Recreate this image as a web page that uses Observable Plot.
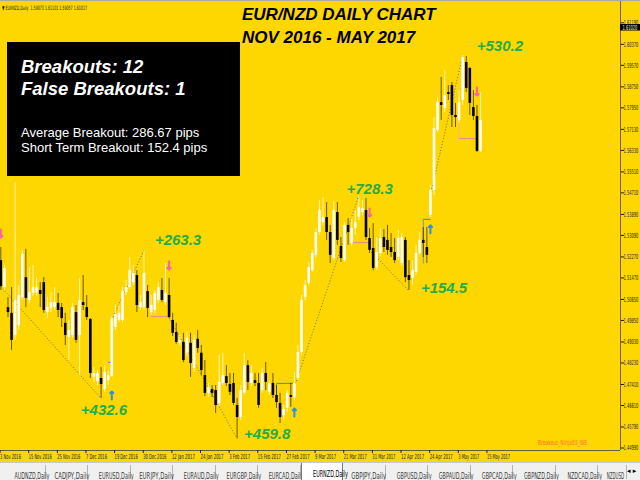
<!DOCTYPE html>
<html><head><meta charset="utf-8">
<script src="https://cdn.jsdelivr.net/npm/d3@7"></script>
<script src="https://cdn.jsdelivr.net/npm/@observablehq/plot@0.6"></script>
<style>
html,body{margin:0;padding:0;background:#FFD700;}
#wrap{position:relative;width:640px;height:480px;background:#FFD700;overflow:hidden;font-family:"Liberation Sans",Arial,sans-serif;}
#chart{position:absolute;left:0;top:0;}
#topline{position:absolute;left:0;top:0;width:640px;height:1px;background:#a8a8a8;}
#hdr{position:absolute;left:2px;top:4px;font:6px/7px "DejaVu Sans",sans-serif;color:#222;white-space:nowrap;transform-origin:left top;}
#title{position:absolute;left:242px;top:2.6px;font:italic bold 17px/23px "Liberation Sans",Arial,sans-serif;color:#000;white-space:nowrap;}
#box{position:absolute;left:7px;top:42px;width:233px;height:134px;background:#000;color:#fff;}
.big{position:absolute;left:14px;font:italic bold 18.5px/18px "Liberation Sans",Arial,sans-serif;white-space:nowrap;}
.small{position:absolute;left:14px;font:13px/13px "Liberation Sans",Arial,sans-serif;white-space:nowrap;}
#sig{position:absolute;left:538px;top:440px;font:7px/7px "DejaVu Sans",sans-serif;color:#ff6a3a;white-space:nowrap;transform-origin:left top;}
#tabs{position:absolute;left:0;top:462px;width:640px;height:18px;background:#f0f0f0;border-top:1px solid #c8c8c8;box-sizing:border-box;}
.tab{position:absolute;top:2px;height:14px;box-sizing:border-box;border-right:1px solid #b4b4b4;text-align:center;overflow:visible;}
.tab span{display:inline-block;font:8px/14px "DejaVu Sans",sans-serif;color:#3a3a3a;white-space:nowrap;}
.tab.active{top:0;height:18px;background:#fff;border:1px solid #777;border-top:none;}
.tab.active span{color:#000;line-height:16px;}
#arrows{position:absolute;left:627px;top:4px;font:7px/9px "DejaVu Sans",sans-serif;color:#000;}
</style></head>
<body>
<div id="wrap">
  <div id="chart"></div>
  <div id="topline"></div>
  <div id="hdr">▼ EURNZD,Daily&nbsp; 1.59073 1.61101 1.59057 1.61017</div>
  <div id="title">EUR/NZD DAILY CHART<br>NOV 2016 - MAY 2017</div>
  <div id="box">
    <div class="big" style="top:15.8px">Breakouts: 12</div>
    <div class="big" style="top:37.8px">False Breakouts: 1</div>
    <div class="small" style="top:84px">Average Breakout: 286.67 pips</div>
    <div class="small" style="top:99px">Short Term Breakout: 152.4 pips</div>
  </div>
  <div id="sig">Breakout_Ninja03_WE</div>
  <div id="tabs"></div>
</div>
<script>
// ---- candle data (EURNZD daily) ----
const open = [1.5213,1.5110,1.5034,1.5012,1.4928,1.4966,1.5072,1.5148,1.5061,1.5088,
1.5091,1.5099,1.5129,1.5015,1.5031,1.5034,1.5050,1.5034,1.4974,1.4920,
1.4928,1.5015,1.4928,1.5053,1.5034,1.4989,1.4768,1.4752,1.4764,1.4722,
1.4756,1.4771,1.4958,1.4985,1.4985,1.5091,1.5110,1.5129,1.5156,1.5034,
1.5034,1.5095,1.5015,1.5023,1.5061,1.5099,1.5053,1.5080,1.4985,1.4939,
1.4898,1.4901,1.4860,1.4898,1.4802,1.4913,1.4860,1.4775,1.4707,1.4722,
1.4718,1.4669,1.4745,1.4771,1.4741,1.4745,1.4661,1.4615,1.4707,1.4813,
1.4745,1.4756,1.4745,1.4718,1.4783,1.4711,1.4745,1.4699,1.4669,1.4623,
1.4650,1.4699,1.4692,1.4764,1.4863,1.5072,1.5126,1.5175,1.5233,1.5320,
1.5358,1.5377,1.5320,1.5221,1.5396,1.5267,1.5213,1.5347,1.5278,1.5335,
1.5377,1.5396,1.5404,1.5297,1.5259,1.5186,1.5240,1.5301,1.5290,1.5263,
1.5244,1.5225,1.5202,1.5290,1.5156,1.5145,1.5168,1.5240,1.5290,1.5263,
1.5385,1.5480,1.5709,1.5815,1.5792,1.5853,1.5880,1.5766,1.5747,1.5823,
1.5968,1.5945,1.5796,1.5762,1.5629];
const high = [1.5263,1.5194,1.5072,1.5110,1.5510,1.5118,1.5252,1.5256,1.5186,1.5194,
1.5148,1.5129,1.5148,1.5072,1.5091,1.5110,1.5088,1.5050,1.5012,1.4985,
1.5050,1.5042,1.5145,1.5156,1.5080,1.4992,1.4806,1.4794,1.4806,1.4813,
1.4794,1.5000,1.5042,1.5042,1.5110,1.5137,1.5225,1.5194,1.5175,1.5080,
1.5252,1.5118,1.5080,1.5099,1.5129,1.5145,1.5202,1.5145,1.5012,1.4974,
1.4928,1.4936,1.4939,1.4936,1.4928,1.4947,1.4890,1.4832,1.4745,1.4737,
1.4737,1.4852,1.4860,1.4813,1.4783,1.4783,1.4688,1.4737,1.4860,1.4832,
1.4813,1.4783,1.4783,1.4802,1.4825,1.4756,1.4783,1.4737,1.4707,1.4661,
1.4718,1.4745,1.4787,1.4890,1.5080,1.5137,1.5206,1.5252,1.5335,1.5442,
1.5453,1.5434,1.5347,1.5438,1.5434,1.5301,1.5358,1.5373,1.5373,1.5404,
1.5461,1.5442,1.5450,1.5335,1.5354,1.5301,1.5335,1.5331,1.5347,1.5316,
1.5297,1.5328,1.5316,1.5301,1.5213,1.5213,1.5271,1.5320,1.5339,1.5339,
1.5499,1.5758,1.5834,1.5911,1.5937,1.5880,1.5892,1.5812,1.5861,1.5994,
1.5991,1.5949,1.5861,1.5804,1.5853];
const low = [1.5099,1.5099,1.4996,1.4871,1.4909,1.4947,1.5061,1.5034,1.5050,1.5076,
1.5076,1.5034,1.5012,1.4992,1.5015,1.5023,1.4996,1.4958,1.4890,1.4832,
1.4916,1.4898,1.4775,1.5023,1.4985,1.4764,1.4749,1.4737,1.4688,1.4711,
1.4737,1.4768,1.4947,1.4977,1.4977,1.5080,1.5103,1.5118,1.5015,1.5023,
1.5023,1.4996,1.5004,1.5012,1.5050,1.5053,1.5042,1.4992,1.4924,1.4894,
1.4886,1.4824,1.4848,1.4768,1.4787,1.4860,1.4775,1.4695,1.4692,1.4692,
1.4631,1.4657,1.4737,1.4733,1.4699,1.4661,1.4535,1.4604,1.4699,1.4718,
1.4733,1.4733,1.4650,1.4707,1.4718,1.4699,1.4688,1.4650,1.4593,1.4604,
1.4635,1.4654,1.4680,1.4756,1.4852,1.5061,1.5118,1.5168,1.5221,1.5309,
1.5347,1.5290,1.5202,1.5213,1.5271,1.5206,1.5206,1.5271,1.5267,1.5309,
1.5366,1.5385,1.5290,1.5240,1.5175,1.5175,1.5229,1.5244,1.5233,1.5225,
1.5202,1.5213,1.5190,1.5129,1.5099,1.5118,1.5156,1.5233,1.5225,1.5202,
1.5377,1.5461,1.5701,1.5747,1.5777,1.5823,1.5720,1.5720,1.5735,1.5804,
1.5853,1.5766,1.5747,1.5625,1.5625];
const close = [1.5114,1.5183,1.5015,1.4909,1.5061,1.5080,1.5237,1.5069,1.5091,1.5110,
1.5110,1.5084,1.5023,1.5034,1.5053,1.5053,1.5023,1.4992,1.4928,1.4947,
1.5034,1.4909,1.5061,1.5042,1.4996,1.4783,1.4783,1.4783,1.4741,1.4787,
1.4775,1.4992,1.5008,1.5012,1.5095,1.5110,1.5175,1.5164,1.5042,1.5053,
1.5164,1.5031,1.5042,1.5088,1.5110,1.5061,1.5088,1.4996,1.4936,1.4901,
1.4909,1.4832,1.4916,1.4821,1.4909,1.4878,1.4794,1.4707,1.4730,1.4707,
1.4661,1.4749,1.4775,1.4745,1.4711,1.4669,1.4615,1.4718,1.4813,1.4749,
1.4783,1.4745,1.4661,1.4783,1.4749,1.4745,1.4699,1.4672,1.4615,1.4646,
1.4707,1.4692,1.4745,1.4863,1.5061,1.5118,1.5186,1.5240,1.5320,1.5404,
1.5377,1.5320,1.5233,1.5404,1.5290,1.5221,1.5347,1.5320,1.5335,1.5358,
1.5415,1.5411,1.5301,1.5252,1.5183,1.5244,1.5297,1.5263,1.5252,1.5244,
1.5213,1.5297,1.5301,1.5148,1.5137,1.5175,1.5240,1.5290,1.5278,1.5233,
1.5480,1.5716,1.5815,1.5804,1.5842,1.5846,1.5766,1.5758,1.5815,1.5987,
1.5869,1.5812,1.5762,1.5629,1.5747];

// ---- axis tick labels ----
const dateLabels = ["3 Nov 2016","15 Nov 2016","25 Nov 2016","7 Dec 2016","19 Dec 2016","30 Dec 2016",
"12 Jan 2017","24 Jan 2017","3 Feb 2017","15 Feb 2017","27 Feb 2017","9 Mar 2017","21 Mar 2017",
"31 Mar 2017","12 Apr 2017","24 Apr 2017","3 May 2017","15 May 2017"];
const barsPerLabel = 8;
const priceTicks = [1.6119,1.6037,1.5957,1.5875,1.5795,1.5713,1.5633,1.5551,1.5471,1.5389,1.5309,
1.5227,1.5147,1.5065,1.4985,1.4903,1.4823,1.4741,1.4661,1.4579,1.4499];
const currentPrice = 1.6102;

// ---- breakout annotations ----
const boStart = [0, 31, 47, 82, 103, 120];
const boStartPrice = [1.5114, 1.4989, 1.4995, 1.4733, 1.5252, 1.5464];
const boEnd = [28, 40, 66, 100, 114, 129];
const boEndPrice = [1.4688, 1.5252, 1.4535, 1.5461, 1.5098, 1.5994];
const boPips = ["+432.6","+263.3","+459.8","+728.3","+154.5","+530.2"];
const boLabelIdx = [28.8, 49.5, 74.4, 103, 123.8, 139.4];
const boLabelPrice = [1.4642, 1.5290, 1.4551, 1.5484, 1.5107, 1.6029];

const sellIdx = [0, 47, 103, 133];
const sellPrice = [1.5316, 1.5194, 1.5396, 1.5857];
const buyIdx = [31, 82, 120];
const buyPrice = [1.4699, 1.4634, 1.5332];

const pinkFrom = [42, 98, 128], pinkTo = [47, 103, 133], pinkLevel = [1.5000, 1.5282, 1.5678];
const blueFrom = [30, 77, 118], blueTo = [31, 82, 120], blueLevel = [1.4825, 1.4745, 1.5370];
const blueEdgeIdx = [77, 118], blueEdgeLow = [1.4680, 1.5202];
const pinkEdgeIdx = [98, 128], pinkEdgeHigh = [1.5301, 1.5747];

const tabNames = ["AUDNZD,Daily","CADJPY,Daily","EURUSD,Daily","EURJPY,Daily","EURAUD,Daily","EURGBP,Daily",
"EURCAD,Daily","EURNZD,Daily","GBPJPY,Daily","GBPUSD,Daily","GBPAUD,Daily","GBPCAD,Daily","GBPNZD,Daily",
"NZDCAD,Daily","NZDUSD"];
const activeTab = "EURNZD,Daily";

// ---- build ----
const xDomain = [-0.09, 173.09];
const yDomain = [1.44895, 1.6204];
const plotW = 620, mR = 20;
const xEdge = xDomain[1] + (xDomain[1] - xDomain[0]) * mR / plotW;

const bars = open.map((o, i) => ({i, o, h: high[i], l: low[i], c: close[i]}));
const up = bars.filter(d => d.c >= d.o), dn = bars.filter(d => d.c < d.o);
const bo = boStart.map((s, k) => ({si: s, sp: boStartPrice[k], ei: boEnd[k], ep: boEndPrice[k],
  t: boPips[k], li: boLabelIdx[k], lp: boLabelPrice[k]}));
const sells = sellIdx.map((i, k) => ({i, p: sellPrice[k]}));
const buys = buyIdx.map((i, k) => ({i, p: buyPrice[k]}));
const pinks = pinkFrom.map((f, k) => ({f, t: pinkTo[k], p: pinkLevel[k]}));
const blues = blueFrom.map((f, k) => ({f, t: blueTo[k], p: blueLevel[k]}));
const blueEdges = blueEdgeIdx.map((i, k) => ({i, a: blueLevel[blueFrom.indexOf(i)], b: blueEdgeLow[k]}));
const pinkEdges = pinkEdgeIdx.map((i, k) => ({i, a: pinkLevel[pinkFrom.indexOf(i)], b: pinkEdgeHigh[k]}));
const dateTicks = dateLabels.map((d, k) => k * barsPerLabel - 0.5);

const chart = Plot.plot({
  width: 640, height: 462,
  marginLeft: 0, marginRight: mR, marginTop: 0, marginBottom: 12,
  style: {background: "transparent", fontFamily: "DejaVu Sans, sans-serif", color: "#1a1a1a", overflow: "visible"},
  x: {type: "linear", domain: xDomain},
  y: {type: "linear", domain: yDomain},
  marks: [
    Plot.ruleY([yDomain[0]], {stroke: "#6e6130", strokeWidth: 1}),
    Plot.ruleX([xDomain[1]], {stroke: "#6e6130", strokeWidth: 1}),
    Plot.link(bo, {x1: "si", y1: "sp", x2: "ei", y2: "ep", stroke: "#6a6a6a", strokeWidth: 1, strokeDasharray: "1,2"}),
    Plot.link(pinks, {x1: "f", x2: "t", y1: "p", y2: "p", stroke: "#f58a8a", strokeWidth: 1.2}),
    Plot.link(blues, {x1: "f", x2: "t", y1: "p", y2: "p", stroke: "#4a8fd8", strokeWidth: 1.2}),
    Plot.link(blueEdges, {x1: "i", x2: "i", y1: "a", y2: "b", stroke: "#7f93a8", strokeWidth: 1}),
    Plot.link(pinkEdges, {x1: "i", x2: "i", y1: "a", y2: "b", stroke: "#f2b0a0", strokeWidth: 1}),
    Plot.ruleX(up, {x: "i", y1: "l", y2: "h", stroke: "#ffffff", strokeOpacity: 0.7, strokeWidth: 1}),
    Plot.ruleX(dn, {x: "i", y1: "l", y2: "h", stroke: "#000000", strokeOpacity: 0.6, strokeWidth: 1}),
    Plot.ruleX(up, {x: "i", y1: "o", y2: "c", stroke: "#ffffff", strokeWidth: 2.6}),
    Plot.ruleX(dn, {x: "i", y1: "o", y2: "c", stroke: "#000000", strokeWidth: 2.6}),
    Plot.vector(sells, {x: "i", y: "p", rotate: 180, length: 8, anchor: "middle", stroke: "#ff5fae", strokeWidth: 2}),
    Plot.vector(buys, {x: "i", y: "p", rotate: 0, length: 8, anchor: "middle", stroke: "#2a8ef0", strokeWidth: 2}),
    Plot.text(bo, {x: "li", y: "lp", text: "t", fill: "#23ad4a", fontSize: 15, fontWeight: "bold",
      fontStyle: "italic", fontFamily: "Liberation Sans, Arial, sans-serif"}),
    Plot.axisX({ticks: dateTicks, tickFormat: d => dateLabels[dateTicks.indexOf(d)], anchor: "bottom",
      tickSize: 3, tickPadding: 1, textAnchor: "start", dx: 1, fontSize: 7, label: null}),
    Plot.axisY({ticks: priceTicks, tickFormat: d => d.toFixed(5), anchor: "right",
      tickSize: 3, tickPadding: 0, fontSize: 7, label: null}),
    Plot.ruleY([currentPrice], {x1: xDomain[1], x2: xEdge, stroke: "#000", strokeWidth: 6.5}),
    Plot.text([currentPrice], {x: xDomain[1], y: d => d, text: d => d.toFixed(5), dx: 2, textAnchor: "start",
      fill: "#f4f0d0", fontSize: 7})
  ]
});
document.getElementById("chart").appendChild(chart);

// compress the small MetaTrader-style texts horizontally (geometry, not only glyph spacing)
function squeezeEls(els, perChar) {
  els.forEach(t => {
    const n = t.textContent.length;
    const w = t.getComputedTextLength();
    if (!w) return;
    const s = (n * perChar) / w;
    let tr = t.getAttribute("transform");
    if (!tr) {
      const x = +(t.getAttribute("x") || 0), y = +(t.getAttribute("y") || 0);
      t.removeAttribute("x"); t.removeAttribute("y");
      tr = `translate(${x},${y})`;
    }
    t.setAttribute("transform", `${tr} scale(${s.toFixed(3)},1)`);
  });
}
squeezeEls(chart.querySelectorAll('[aria-label="x-axis tick label"] text'), 2.1);
squeezeEls(chart.querySelectorAll('[aria-label="y-axis tick label"] text'), 2.1);
const textGroups = chart.querySelectorAll('g[aria-label="text"]');
if (textGroups.length) squeezeEls(textGroups[textGroups.length - 1].querySelectorAll("text"), 2.1);

function fit(el, w) {
  const r = el.getBoundingClientRect().width;
  if (r > 0) el.style.transform = `scaleX(${w / r})`;
}
fit(document.getElementById("hdr"), 85);
fit(document.getElementById("sig"), 49);

const tabs = document.getElementById("tabs");
tabNames.forEach((name, k) => {
  const d = document.createElement("div");
  d.className = "tab" + (name === activeTab ? " active" : "");
  d.style.left = (3 + 42.5 * k) + "px";
  d.style.width = (k === tabNames.length - 1 ? 29 : 42.5) + "px";
  const s = document.createElement("span");
  s.textContent = name;
  d.appendChild(s);
  tabs.appendChild(d);
  fit(s, name.length * 2.9);
});
const ar = document.createElement("div");
ar.id = "arrows"; ar.textContent = "◂ ▸";
tabs.appendChild(ar);
</script>
</body></html>
